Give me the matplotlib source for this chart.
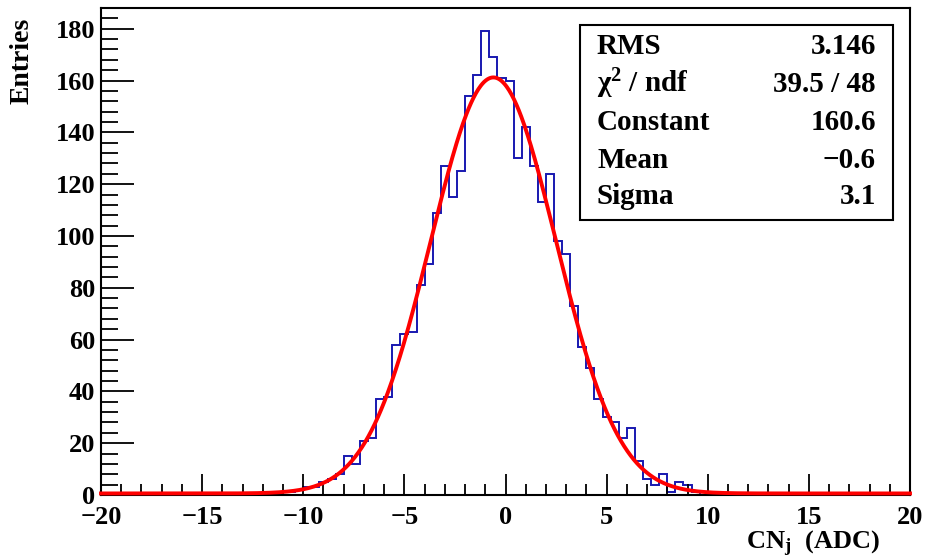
import numpy as np
import matplotlib
matplotlib.use("Agg")
import matplotlib.pyplot as plt
from matplotlib.patches import Rectangle
from matplotlib.ticker import MultipleLocator

# histogram: 100 bins of 0.4 ADC between -20 and 20
bin_edges = np.linspace(-20, 20, 101)
counts = [0] * 22 + [
    1, 1, 2, 3, 3, 5, 6, 8, 15, 12,
    21, 22, 37, 38, 58, 62, 63, 81, 89, 109,
    127, 115, 125, 154, 162, 179, 169, 161, 160, 130,
    142, 127, 113, 124, 98, 93, 73, 57, 49, 37,
    30, 28, 22, 26, 13, 6, 4, 8, 1, 5,
    4, 1,
] + [0] * 26

# gaussian fit result
fit_const = 160.6
fit_mean = -0.6
fit_sigma = 3.1

# stats box
stat_names = ["RMS", r"χ$^{\mathbf{2}}$ / ndf", "Constant", "Mean", "Sigma"]
stat_values = ["3.146", "39.5 / 48", "160.6", "\u22120.6", "3.1"]

plt.rcParams['font.family'] = ['Liberation Serif', 'DejaVu Serif']
plt.rcParams['font.weight'] = 'bold'
plt.rcParams['mathtext.fontset'] = 'custom'
plt.rcParams['mathtext.rm'] = 'Liberation Serif:bold'
plt.rcParams['mathtext.bf'] = 'Liberation Serif:bold'
plt.rcParams['mathtext.it'] = 'Liberation Serif:bold'

fig = plt.figure(figsize=(9.27, 5.59), dpi=100)
ax = fig.add_axes([101 / 927, 64 / 559, 809 / 927, 487 / 559])

ax.stairs(counts, bin_edges, color='#1818b0', linewidth=1.4)

xf = np.linspace(-20, 20, 1000)
yf = fit_const * np.exp(-0.5 * ((xf - fit_mean) / fit_sigma) ** 2)
ax.plot(xf, yf + 0.6, color='#ff0000', linewidth=2.8, zorder=3, clip_on=False)

ax.set_xlim(-20, 20)
ax.set_ylim(0, 188)
ax.xaxis.set_major_locator(MultipleLocator(5))
ax.xaxis.set_minor_locator(MultipleLocator(1))
ax.yaxis.set_major_locator(MultipleLocator(20))
ax.yaxis.set_minor_locator(MultipleLocator(4))
ax.tick_params(axis='both', which='both', direction='in', labelsize=19, width=1.3)
ax.tick_params(axis='x', which='major', length=15, pad=8)
ax.tick_params(axis='x', which='minor', length=8)
ax.tick_params(axis='y', which='major', length=24, pad=4)
ax.tick_params(axis='y', which='minor', length=12)
for lab in ax.get_xticklabels() + ax.get_yticklabels():
    lab.set_fontweight('bold')
for sp in ax.spines.values():
    sp.set_linewidth(1.5)

fig.text(22 / 927, 1 - 18 / 559, "Entries", rotation=90, ha='center', va='top',
         fontsize=20, fontweight='bold')
fig.text(880 / 927, 1 - 544 / 559, r"CN$_{\mathbf{j}}$  (ADC)", ha='right', va='center',
         fontsize=19, fontweight='bold')

# stats box
fig.patches.append(Rectangle((580 / 927, 1 - 220 / 559), 313 / 927, 195 / 559,
                             transform=fig.transFigure, facecolor='white',
                             edgecolor='black', linewidth=1.5, zorder=5))
rows_y = [47, 84, 122, 160, 197]
for name, val, yy in zip(stat_names, stat_values, rows_y):
    fig.text(597 / 927, 1 - yy / 559, name, ha='left', va='center',
             fontsize=21, fontweight='bold', zorder=6)
    fig.text(876 / 927, 1 - yy / 559, val, ha='right', va='center',
             fontsize=21, fontweight='bold', zorder=6)

fig.savefig("out.png", dpi=100)
